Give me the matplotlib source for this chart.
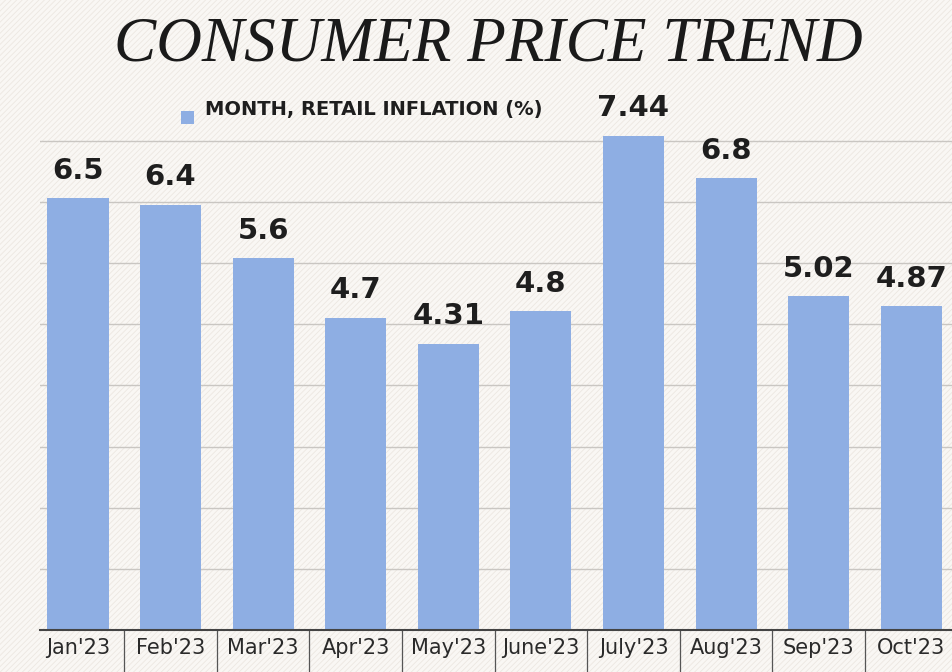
import numpy as np
import matplotlib
matplotlib.use('Agg')
import matplotlib.pyplot as plt
from matplotlib.patches import Rectangle

months = ["Jan'23", "Feb'23", "Mar'23", "Apr'23", "May'23", "June'23",
          "July'23", "Aug'23", "Sep'23", "Oct'23"]
inflation = [6.5, 6.4, 5.6, 4.7, 4.31, 4.8, 7.44, 6.8, 5.02, 4.87]
value_labels = ["6.5", "6.4", "5.6", "4.7", "4.31", "4.8", "7.44", "6.8", "5.02", "4.87"]
grid_levels = [0.92 * k for k in range(1, 9)]

bar_color = '#8eaee3'
text_color = '#1e1e1e'

plt.rcParams['hatch.linewidth'] = 0.6

fig = plt.figure(figsize=(9.52, 6.72), dpi=100)
fig.patch.set_facecolor('#f9f7f4')
# faint diagonal texture of the printed background
bg = Rectangle((0, 0), 1, 1, transform=fig.transFigure, facecolor='none',
               edgecolor='#ece7e1', hatch='//////', linewidth=0, zorder=-10)
fig.patches.append(bg)

ax = fig.add_axes([40 / 952, 42 / 672, 1 - 40 / 952, 505 / 672])
ax.set_facecolor('none')

x = np.arange(len(months))
bars = ax.bar(x, inflation, width=0.66, color=bar_color, zorder=2)

for b, lab in zip(bars, value_labels):
    ax.text(b.get_x() + b.get_width() / 2, b.get_height() + 0.2, lab,
            ha='center', va='bottom', fontsize=21, fontweight='bold',
            color=text_color, zorder=3)

for g in grid_levels:
    ax.axhline(g, color='#c9c6c2', linewidth=1.0, zorder=1)

ax.set_xlim(-0.41, 9.44)
ax.set_ylim(0, 7.6)
ax.set_yticks([])
ax.set_xticks(x)
ax.set_xticklabels(months, fontsize=15, color='#2a2a2a')
ax.tick_params(axis='x', length=0, pad=6)
for s in ['top', 'right', 'left']:
    ax.spines[s].set_visible(False)
ax.spines['bottom'].set_color('#444444')
ax.spines['bottom'].set_linewidth(1.5)

# separators between month labels
for k in range(len(months) - 1):
    ax.plot([k + 0.5, k + 0.5], [0, -0.62], color='#555555', linewidth=0.9,
            clip_on=False)

fig.text(0.513, 0.932, 'CONSUMER PRICE TREND', ha='center', va='center',
         fontsize=45.5, style='italic', family='Liberation Serif', color='#1a1a1a')

fig.patches.append(Rectangle((181 / 952, 1 - 124 / 672), 13 / 952, 13 / 672,
                             transform=fig.transFigure, facecolor=bar_color,
                             edgecolor='none'))
fig.text(205 / 952, 1 - 109 / 672, 'MONTH, RETAIL INFLATION (%)', ha='left',
         va='center', fontsize=14, fontweight='bold', color=text_color)

fig.savefig('out.png', dpi=100, facecolor=fig.get_facecolor())
